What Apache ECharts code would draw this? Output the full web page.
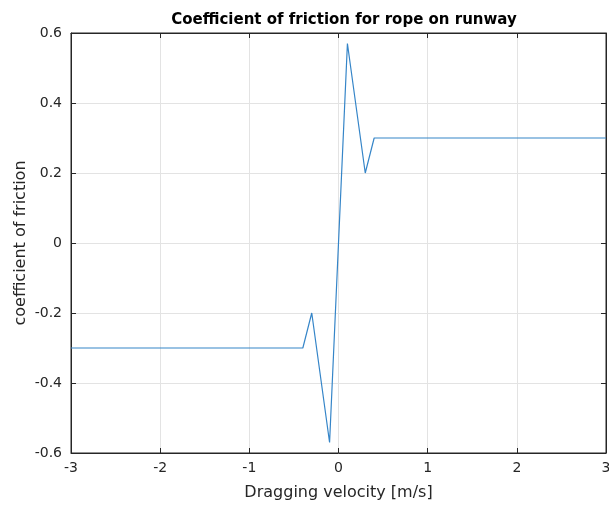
<!DOCTYPE html>
<html>
<head>
<meta charset="utf-8">
<script src="https://cdn.jsdelivr.net/npm/echarts@6/dist/echarts.min.js"></script>
<style>
  html, body { margin: 0; padding: 0; background: #fff; }
  #chart { width: 609px; height: 508px; }
</style>
</head>
<body>
<div id="chart"></div>
<script>
// dragging velocity [m/s] and friction coefficient
const velocity = [-3, -0.4, -0.3, -0.1, 0.1, 0.3, 0.4, 3];
const friction = [-0.3, -0.3, -0.2, -0.57, 0.57, 0.2, 0.3, 0.3];
const xTicks = [-3, -2, -1, 0, 1, 2, 3];
const yTicks = [-0.6, -0.4, -0.2, 0, 0.2, 0.4, 0.6];

const FONT = 'DejaVu Sans, Liberation Sans, sans-serif';
const TEXT = '#262626';
const AXIS = '#262626';

const chart = echarts.init(document.getElementById('chart'), null, { renderer: 'canvas' });

const fmt = v => {
  const r = Math.round(v * 10) / 10;
  return r === 0 ? '0' : String(r);
};

const tick = { show: true, inside: true, length: 5, lineStyle: { color: AXIS } };
const line = { show: true, onZero: false, lineStyle: { color: AXIS } };

chart.setOption({
  backgroundColor: '#fff',
  animation: false,
  title: {
    text: 'Coefficient of friction for rope on runway',
    left: 339, top: 8, textAlign: 'center',
    textStyle: { fontFamily: FONT, fontSize: 15, fontWeight: 'bold', color: '#000' },
  },
  grid: {
    left: 71, right: 3, top: 33, bottom: 55, outerBoundsMode: 'none',
    show: true, borderColor: AXIS, borderWidth: 1,
  },
  xAxis: [{
    type: 'value', min: xTicks[0], max: xTicks[xTicks.length - 1], interval: 1,
    name: 'Dragging velocity [m/s]', nameLocation: 'middle', nameGap: 32, nameMoveOverlap: false,
    nameTextStyle: { fontFamily: FONT, fontSize: 16, color: TEXT },
    axisLine: line, axisTick: tick,
    axisLabel: { fontFamily: FONT, fontSize: 14, color: TEXT, margin: 8, formatter: fmt },
    splitLine: { show: true, lineStyle: { color: '#e3e3e3' } },
  }, {
    type: 'value', position: 'top', min: xTicks[0], max: xTicks[xTicks.length - 1], interval: 1,
    axisLine: line, axisTick: tick,
    axisLabel: { show: false }, splitLine: { show: false },
  }],
  yAxis: [{
    type: 'value', min: yTicks[0], max: yTicks[yTicks.length - 1], interval: 0.2,
    name: 'coefficient of friction', nameLocation: 'middle', nameGap: 42, nameMoveOverlap: false,
    nameTextStyle: { fontFamily: FONT, fontSize: 16, color: TEXT },
    axisLine: line, axisTick: tick,
    axisLabel: { fontFamily: FONT, fontSize: 14, color: TEXT, margin: 9, formatter: fmt },
    splitLine: { show: true, lineStyle: { color: '#e3e3e3' } },
  }, {
    type: 'value', position: 'right', min: yTicks[0], max: yTicks[yTicks.length - 1], interval: 0.2,
    axisLine: line, axisTick: tick,
    axisLabel: { show: false }, splitLine: { show: false },
  }],
  series: [{
    type: 'line',
    data: velocity.map((v, i) => [v, friction[i]]),
    symbol: 'none',
    lineStyle: { color: '#3585c8', width: 1.2 },
  }],
});
</script>
</body>
</html>
